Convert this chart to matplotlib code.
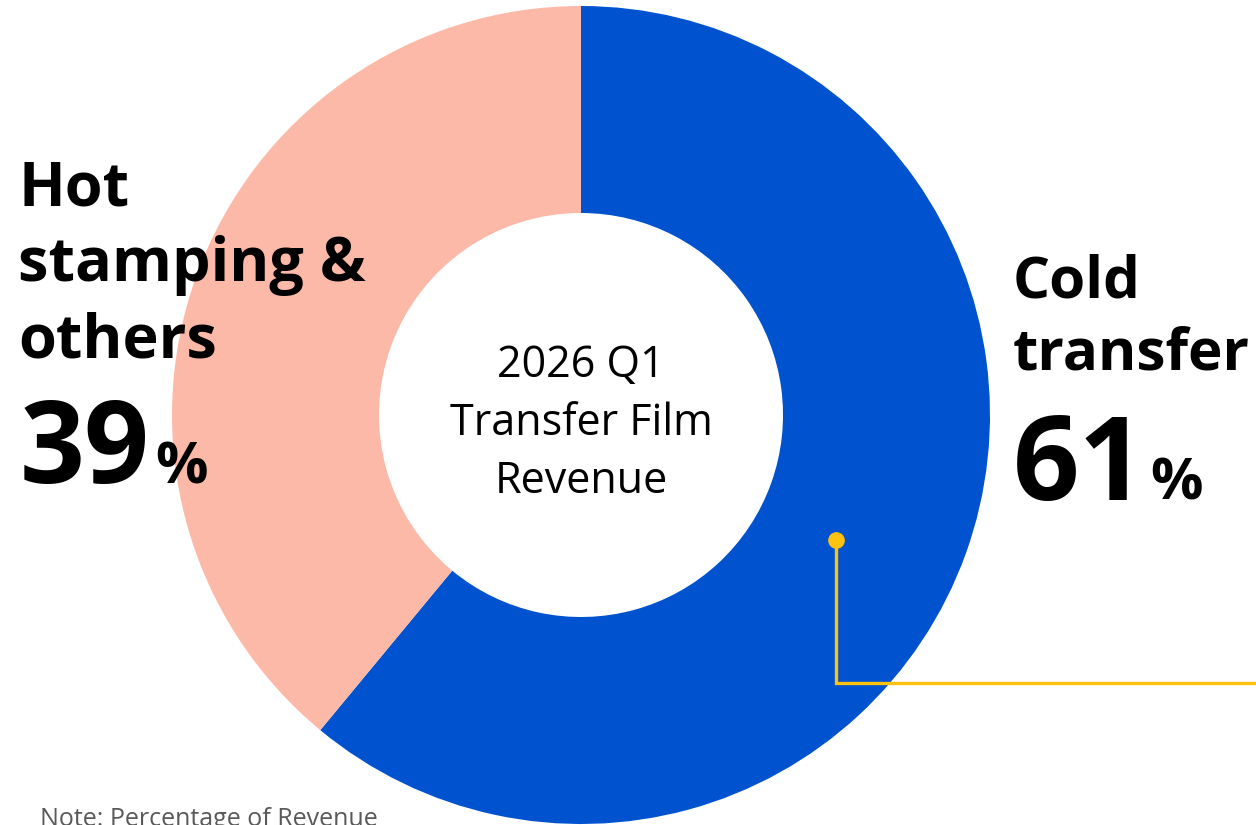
import matplotlib.pyplot as plt

plt.rcParams["font.family"] = ["Open Sans", "DejaVu Sans"]

W, H = 1256, 825

labels = ["Cold transfer", "Hot stamping & others"]
shares = [61, 39]
colors = ["#0052CE", "#FDB9A8"]
center_title = ["2026 Q1", "Transfer Film", "Revenue"]
note = "Note: Percentage of Revenue"

fig = plt.figure(figsize=(W / 100, H / 100), dpi=100)
ax = fig.add_axes([0, 0, 1, 1])
ax.set_xlim(0, W)
ax.set_ylim(0, H)
ax.axis("off")


def y(py):
    # image pixel row -> data y
    return H - py


ax.pie(shares, colors=colors, startangle=90, counterclock=False,
       center=(581, y(415)), radius=409,
       wedgeprops=dict(width=207, linewidth=0))
ax.set_xlim(0, W)
ax.set_ylim(0, H)
ax.set_aspect("equal")

# centre title
for i, line in enumerate(center_title):
    ax.text(581, y(377 + 58 * i), line, ha="center", va="baseline",
            fontsize=31, color="black")

# left label
for i, line in enumerate(["Hot", "stamping &", "others"]):
    ax.text(18, y(205 + 76 * i), line, ha="left", va="baseline",
            fontsize=44, fontweight="bold", color="black")
ax.text(20, y(483), f"{shares[1]}", ha="left", va="baseline",
        fontsize=82, fontweight="bold", color="black")
ax.text(155, y(483), "%", ha="left", va="baseline",
        fontsize=42, fontweight="bold", color="black")

# right label
for i, line in enumerate(["Cold", "transfer"]):
    ax.text(1013, y(297 + 72 * i), line, ha="left", va="baseline",
            fontsize=42, fontweight="bold", color="black")
ax.text(1013, y(500), f"{shares[0]}", ha="left", va="baseline",
        fontsize=84, fontweight="bold", color="black")
ax.text(1150, y(500), "%", ha="left", va="baseline",
        fontsize=42, fontweight="bold", color="black")

# yellow callout
ax.plot([836, 836, W], [y(540), y(683), y(683)], color="#FFC20E",
        linewidth=2.4, solid_joinstyle="miter")
ax.plot([836], [y(540)], marker="o", markersize=11, color="#FFC20E")

ax.text(40, y(826), note, ha="left", va="baseline", fontsize=18,
        color="#595959")

fig.savefig("out.png", dpi=100)
